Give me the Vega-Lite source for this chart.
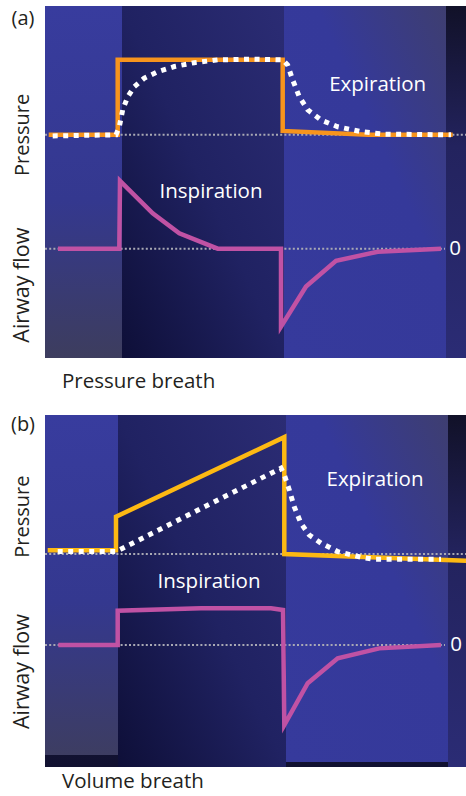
{
  "$schema": "https://vega.github.io/schema/vega-lite/v6.json",
  "padding": {"left": 10, "top": 6, "right": 0, "bottom": 0},
  "background": "white",
  "config": {"view": {"stroke": null}, "font": "Open Sans"},
  "spacing": 57,
  "bounds": "flush",
  "datasets": {
    "ref_a": [{"t1": 0, "t2": 4.22, "u": 63.4}, {"t1": 0, "t2": 4.0, "u": 31.05}],
    "press_a": [
      {"i": 1, "t": 0.037, "u": 63.4}, {"i": 2, "t": 0.727, "u": 63.4}, {"i": 3, "t": 0.727, "u": 84.7},
      {"i": 4, "t": 2.377, "u": 84.7}, {"i": 5, "t": 2.377, "u": 64.5}, {"i": 6, "t": 3.23, "u": 63.4},
      {"i": 7, "t": 4.077, "u": 63.4}
    ],
    "alv_a": [
      {"i": 1, "t": 0.077, "u": 63.1}, {"i": 2, "t": 0.71, "u": 63.4}, {"i": 3, "t": 0.743, "u": 65.7},
      {"i": 4, "t": 0.777, "u": 70.5}, {"i": 5, "t": 0.827, "u": 74.2}, {"i": 6, "t": 0.893, "u": 77.1},
      {"i": 7, "t": 0.993, "u": 79.5}, {"i": 8, "t": 1.127, "u": 81.3}, {"i": 9, "t": 1.293, "u": 82.8},
      {"i": 10, "t": 1.493, "u": 83.9}, {"i": 11, "t": 1.727, "u": 84.7}, {"i": 12, "t": 2.06, "u": 84.9},
      {"i": 13, "t": 2.377, "u": 84.7}, {"i": 14, "t": 2.427, "u": 83.2}, {"i": 15, "t": 2.477, "u": 79.0},
      {"i": 16, "t": 2.543, "u": 74.2}, {"i": 17, "t": 2.627, "u": 70.5}, {"i": 18, "t": 2.76, "u": 67.6},
      {"i": 19, "t": 2.927, "u": 65.7}, {"i": 20, "t": 3.16, "u": 64.3}, {"i": 21, "t": 3.393, "u": 63.6},
      {"i": 22, "t": 4.06, "u": 63.4}
    ],
    "flow_a": [
      {"i": 1, "t": 0.13, "u": 31.05}, {"i": 2, "t": 0.743, "u": 31.05}, {"i": 3, "t": 0.75, "u": 50.3},
      {"i": 4, "t": 1.077, "u": 41.1}, {"i": 5, "t": 1.343, "u": 35.4}, {"i": 6, "t": 1.727, "u": 31.05},
      {"i": 7, "t": 2.36, "u": 31.05}, {"i": 8, "t": 2.36, "u": 8.9}, {"i": 9, "t": 2.61, "u": 20.3},
      {"i": 10, "t": 2.91, "u": 27.6}, {"i": 11, "t": 3.327, "u": 30.2}, {"i": 12, "t": 3.96, "u": 31.05}
    ],
    "wtext_a": [
      {"t": 3.327, "u": 77.6, "label": "Expiration"},
      {"t": 1.66, "u": 47.1, "label": "Inspiration"},
      {"t": 4.10, "u": 31.05, "label": "0"}
    ],
    "ref_b": [{"t1": 0, "t2": 4.22, "u": 60.5}, {"t1": 0, "t2": 4.0, "u": 34.66}],
    "press_b": [
      {"i": 1, "t": 0.027, "u": 61.6}, {"i": 2, "t": 0.71, "u": 61.6}, {"i": 3, "t": 0.71, "u": 71.1},
      {"i": 4, "t": 2.393, "u": 93.7}, {"i": 5, "t": 2.393, "u": 60.5}, {"i": 6, "t": 4.22, "u": 58.6}
    ],
    "alv_b": [
      {"i": 1, "t": 0.127, "u": 61.2}, {"i": 2, "t": 0.71, "u": 61.2}, {"i": 3, "t": 2.36, "u": 84.9},
      {"i": 4, "t": 2.393, "u": 83.0}, {"i": 5, "t": 2.443, "u": 78.7}, {"i": 6, "t": 2.493, "u": 73.9},
      {"i": 7, "t": 2.56, "u": 69.2}, {"i": 8, "t": 2.643, "u": 65.9}, {"i": 9, "t": 2.76, "u": 63.6},
      {"i": 10, "t": 2.927, "u": 61.2}, {"i": 11, "t": 3.16, "u": 59.6}, {"i": 12, "t": 3.293, "u": 59.0},
      {"i": 13, "t": 3.96, "u": 59.0}
    ],
    "flow_b": [
      {"i": 1, "t": 0.133, "u": 34.66}, {"i": 2, "t": 0.727, "u": 34.66}, {"i": 3, "t": 0.727, "u": 44.4},
      {"i": 4, "t": 1.56, "u": 45.1}, {"i": 5, "t": 2.26, "u": 45.1}, {"i": 6, "t": 2.38, "u": 44.6},
      {"i": 7, "t": 2.393, "u": 11.9}, {"i": 8, "t": 2.627, "u": 23.8}, {"i": 9, "t": 2.927, "u": 30.9},
      {"i": 10, "t": 3.343, "u": 33.7}, {"i": 11, "t": 3.96, "u": 34.66}
    ],
    "wtext_b": [
      {"t": 3.30, "u": 81.5, "label": "Expiration"},
      {"t": 1.64, "u": 52.6, "label": "Inspiration"},
      {"t": 4.11, "u": 34.66, "label": "0"}
    ]
  },
  "vconcat": [
    {
      "width": 422,
      "height": 352,
      "encoding": {},
      "layer": [
        {
          "data": {"values": [{"t1": 0, "t2": 4.22, "u1": 0, "u2": 100}]},
          "mark": {"type": "rect", "color": {"gradient": "linear", "x1": 0, "y1": 0, "x2": 0, "y2": 1, "stops": [{"offset": 0, "color": "#1d1d52"}, {"offset": 1, "color": "#141438"}]}},
          "encoding": {
            "x": {"field": "t1", "type": "quantitative", "scale": {"domain": [0, 4.22], "nice": false, "zero": false}, "axis": null},
            "x2": {"field": "t2"},
            "y": {"field": "u1", "type": "quantitative", "scale": {"domain": [0, 100], "nice": false, "zero": false}, "axis": null},
            "y2": {"field": "u2"}
          }
        },
        {
          "data": {"values": [{"t1": 0.0, "t2": 0.77, "u1": 0, "u2": 100}]},
          "mark": {"type": "rect", "color": {"gradient": "linear", "x1": 0, "y1": 0, "x2": 0, "y2": 1, "stops": [{"offset": 0, "color": "#383c9e"}, {"offset": 0.55, "color": "#34388f"}, {"offset": 1, "color": "#3d3d5e"}]}},
          "encoding": {"x": {"field": "t1", "type": "quantitative"}, "x2": {"field": "t2"}, "y": {"field": "u1", "type": "quantitative"}, "y2": {"field": "u2"}}
        },
        {
          "data": {"values": [{"t1": 0.77, "t2": 2.39, "u1": 0, "u2": 100}]},
          "mark": {"type": "rect", "color": {"gradient": "linear", "x1": 1, "y1": 0, "x2": 0, "y2": 1, "stops": [{"offset": 0, "color": "#2b2c74"}, {"offset": 0.5, "color": "#202262"}, {"offset": 1, "color": "#0e0f38"}]}},
          "encoding": {"x": {"field": "t1", "type": "quantitative"}, "x2": {"field": "t2"}, "y": {"field": "u1", "type": "quantitative"}, "y2": {"field": "u2"}}
        },
        {
          "data": {"values": [{"t1": 2.39, "t2": 4.01, "u1": 0, "u2": 100}]},
          "mark": {"type": "rect", "color": {"gradient": "linear", "x1": 0, "y1": 1, "x2": 1, "y2": 0, "stops": [{"offset": 0, "color": "#363a9c"}, {"offset": 0.6, "color": "#35399a"}, {"offset": 1, "color": "#3e3e70"}]}},
          "encoding": {"x": {"field": "t1", "type": "quantitative"}, "x2": {"field": "t2"}, "y": {"field": "u1", "type": "quantitative"}, "y2": {"field": "u2"}}
        },
        {
          "data": {"values": [{"t1": 4.01, "t2": 4.22, "u1": 0, "u2": 100}]},
          "mark": {"type": "rect", "color": {"gradient": "linear", "x1": 0, "y1": 0, "x2": 0, "y2": 1, "stops": [{"offset": 0, "color": "#111128"}, {"offset": 0.4, "color": "#23235e"}, {"offset": 1, "color": "#2b2c75"}]}},
          "encoding": {"x": {"field": "t1", "type": "quantitative"}, "x2": {"field": "t2"}, "y": {"field": "u1", "type": "quantitative"}, "y2": {"field": "u2"}}
        },
        {
          "data": {"name": "ref_a"},
          "mark": {"type": "rule", "color": "#a9a9b4", "strokeWidth": 2, "strokeDash": [2, 2.2]},
          "encoding": {"x": {"field": "t1", "type": "quantitative"}, "x2": {"field": "t2"}, "y": {"field": "u", "type": "quantitative"}}
        },
        {
          "data": {"name": "flow_a"},
          "mark": {"type": "line", "color": "#c052a4", "strokeWidth": 4.5, "strokeJoin": "miter"},
          "encoding": {"x": {"field": "t", "type": "quantitative"}, "y": {"field": "u", "type": "quantitative"}, "order": {"field": "i"}}
        },
        {
          "data": {"name": "press_a"},
          "mark": {"type": "line", "color": "#f7941d", "strokeWidth": 4.5, "strokeJoin": "miter"},
          "encoding": {"x": {"field": "t", "type": "quantitative"}, "y": {"field": "u", "type": "quantitative"}, "order": {"field": "i"}}
        },
        {
          "data": {"name": "alv_a"},
          "mark": {"type": "line", "color": "#ffffff", "strokeWidth": 5, "strokeDash": [5, 5.5]},
          "encoding": {"x": {"field": "t", "type": "quantitative"}, "y": {"field": "u", "type": "quantitative"}, "order": {"field": "i"}}
        },
        {
          "data": {"name": "wtext_a"},
          "mark": {"type": "text", "color": "#ffffff", "fontSize": 20.5, "align": "center", "baseline": "middle"},
          "encoding": {"x": {"field": "t", "type": "quantitative"}, "y": {"field": "u", "type": "quantitative"}, "text": {"field": "label"}}
        },
        {
          "data": {"values": [
            {"t": -0.22, "u": 96.4, "label": "(a)", "ang": 0, "fs": 20},
            {"t": -0.22, "u": 63.4, "label": "Pressure", "ang": 270, "fs": 20},
            {"t": -0.22, "u": 20.7, "label": "Airway flow", "ang": 270, "fs": 21.5}
          ]},
          "mark": {"type": "text", "color": "#231f20", "align": "center", "baseline": "middle"},
          "encoding": {"x": {"field": "t", "type": "quantitative"}, "y": {"field": "u", "type": "quantitative"}, "text": {"field": "label"}, "angle": {"field": "ang", "type": "quantitative", "scale": null}, "size": {"field": "fs", "type": "quantitative", "scale": null}}
        },
        {
          "data": {"values": [{"t": 0.17, "u": -6.7, "label": "Pressure breath"}]},
          "mark": {"type": "text", "color": "#231f20", "fontSize": 20.5, "align": "left", "baseline": "middle"},
          "encoding": {"x": {"field": "t", "type": "quantitative"}, "y": {"field": "u", "type": "quantitative"}, "text": {"field": "label"}}
        }
      ]
    },
    {
      "width": 422,
      "height": 352,
      "encoding": {},
      "layer": [
        {
          "data": {"values": [{"t1": 0, "t2": 4.22, "u1": 0, "u2": 100}]},
          "mark": {"type": "rect", "color": {"gradient": "linear", "x1": 0, "y1": 0, "x2": 0, "y2": 1, "stops": [{"offset": 0, "color": "#1f1f55"}, {"offset": 1, "color": "#111130"}]}},
          "encoding": {
            "x": {"field": "t1", "type": "quantitative", "scale": {"domain": [0, 4.22], "nice": false, "zero": false}, "axis": null},
            "x2": {"field": "t2"},
            "y": {"field": "u1", "type": "quantitative", "scale": {"domain": [0, 100], "nice": false, "zero": false}, "axis": null},
            "y2": {"field": "u2"}
          }
        },
        {
          "data": {"values": [{"t1": 0.0, "t2": 0.73, "u1": 3.4, "u2": 100}]},
          "mark": {"type": "rect", "color": {"gradient": "linear", "x1": 0, "y1": 0, "x2": 0, "y2": 1, "stops": [{"offset": 0, "color": "#383c9e"}, {"offset": 0.55, "color": "#34388f"}, {"offset": 1, "color": "#3d3d62"}]}},
          "encoding": {"x": {"field": "t1", "type": "quantitative"}, "x2": {"field": "t2"}, "y": {"field": "u1", "type": "quantitative"}, "y2": {"field": "u2"}}
        },
        {
          "data": {"values": [{"t1": 0.73, "t2": 2.41, "u1": 0, "u2": 100}]},
          "mark": {"type": "rect", "color": {"gradient": "linear", "x1": 1, "y1": 0, "x2": 0, "y2": 1, "stops": [{"offset": 0, "color": "#2b2c74"}, {"offset": 0.5, "color": "#202262"}, {"offset": 1, "color": "#0e0f38"}]}},
          "encoding": {"x": {"field": "t1", "type": "quantitative"}, "x2": {"field": "t2"}, "y": {"field": "u1", "type": "quantitative"}, "y2": {"field": "u2"}}
        },
        {
          "data": {"values": [{"t1": 2.41, "t2": 4.03, "u1": 1.4, "u2": 100}]},
          "mark": {"type": "rect", "color": {"gradient": "linear", "x1": 0, "y1": 1, "x2": 1, "y2": 0, "stops": [{"offset": 0, "color": "#363a9c"}, {"offset": 0.6, "color": "#35399a"}, {"offset": 1, "color": "#3e3e70"}]}},
          "encoding": {"x": {"field": "t1", "type": "quantitative"}, "x2": {"field": "t2"}, "y": {"field": "u1", "type": "quantitative"}, "y2": {"field": "u2"}}
        },
        {
          "data": {"values": [{"t1": 4.03, "t2": 4.22, "u1": 0, "u2": 100}]},
          "mark": {"type": "rect", "color": {"gradient": "linear", "x1": 0, "y1": 0, "x2": 0, "y2": 1, "stops": [{"offset": 0, "color": "#111128"}, {"offset": 0.4, "color": "#23235e"}, {"offset": 1, "color": "#2b2c75"}]}},
          "encoding": {"x": {"field": "t1", "type": "quantitative"}, "x2": {"field": "t2"}, "y": {"field": "u1", "type": "quantitative"}, "y2": {"field": "u2"}}
        },
        {
          "data": {"name": "ref_b"},
          "mark": {"type": "rule", "color": "#a9a9b4", "strokeWidth": 2, "strokeDash": [2, 2.2]},
          "encoding": {"x": {"field": "t1", "type": "quantitative"}, "x2": {"field": "t2"}, "y": {"field": "u", "type": "quantitative"}}
        },
        {
          "data": {"name": "flow_b"},
          "mark": {"type": "line", "color": "#c052a4", "strokeWidth": 4.5, "strokeJoin": "miter"},
          "encoding": {"x": {"field": "t", "type": "quantitative"}, "y": {"field": "u", "type": "quantitative"}, "order": {"field": "i"}}
        },
        {
          "data": {"name": "press_b"},
          "mark": {"type": "line", "color": "#fdb913", "strokeWidth": 4.5, "strokeJoin": "miter"},
          "encoding": {"x": {"field": "t", "type": "quantitative"}, "y": {"field": "u", "type": "quantitative"}, "order": {"field": "i"}}
        },
        {
          "data": {"name": "alv_b"},
          "mark": {"type": "line", "color": "#ffffff", "strokeWidth": 5, "strokeDash": [5, 5.5]},
          "encoding": {"x": {"field": "t", "type": "quantitative"}, "y": {"field": "u", "type": "quantitative"}, "order": {"field": "i"}}
        },
        {
          "data": {"name": "wtext_b"},
          "mark": {"type": "text", "color": "#ffffff", "fontSize": 20.5, "align": "center", "baseline": "middle"},
          "encoding": {"x": {"field": "t", "type": "quantitative"}, "y": {"field": "u", "type": "quantitative"}, "text": {"field": "label"}}
        },
        {
          "data": {"values": [
            {"t": -0.22, "u": 97.2, "label": "(b)", "ang": 0, "fs": 20},
            {"t": -0.22, "u": 71.1, "label": "Pressure", "ang": 270, "fs": 20},
            {"t": -0.22, "u": 27.1, "label": "Airway flow", "ang": 270, "fs": 21.5}
          ]},
          "mark": {"type": "text", "color": "#231f20", "align": "center", "baseline": "middle"},
          "encoding": {"x": {"field": "t", "type": "quantitative"}, "y": {"field": "u", "type": "quantitative"}, "text": {"field": "label"}, "angle": {"field": "ang", "type": "quantitative", "scale": null}, "size": {"field": "fs", "type": "quantitative", "scale": null}}
        },
        {
          "data": {"values": [{"t": 0.17, "u": -4.3, "label": "Volume breath"}]},
          "mark": {"type": "text", "color": "#231f20", "fontSize": 20.5, "align": "left", "baseline": "middle"},
          "encoding": {"x": {"field": "t", "type": "quantitative"}, "y": {"field": "u", "type": "quantitative"}, "text": {"field": "label"}}
        }
      ]
    }
  ]
}
